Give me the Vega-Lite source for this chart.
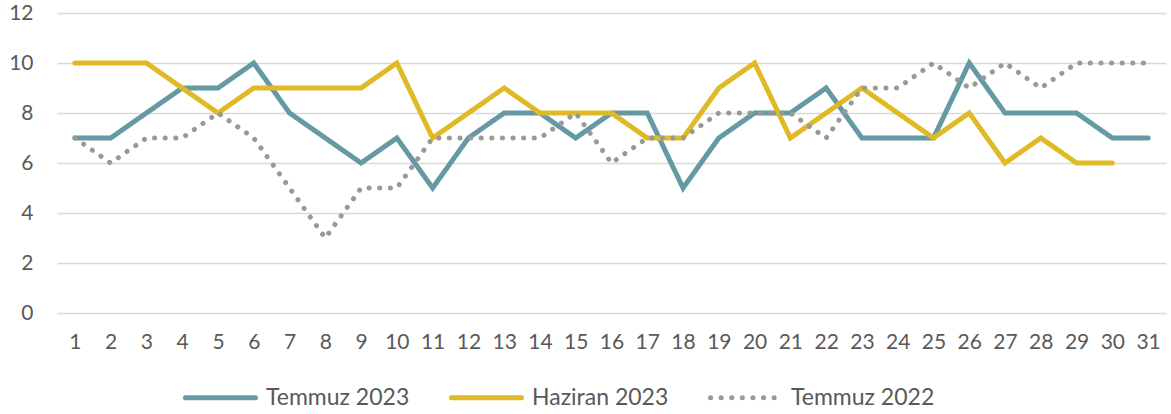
{
  "$schema": "https://vega.github.io/schema/vega-lite/v6.json",
  "autosize": "none",
  "width": 1109,
  "height": 300,
  "padding": {"left": 57, "top": 13, "right": 5, "bottom": 101},
  "background": "white",
  "config": {
    "font": "Lato",
    "view": {"stroke": null},
    "axis": {"labelColor": "#595959", "labelFont": "Lato", "labelFontSize": 21, "ticks": false, "domain": false}
  },
  "data": {
    "values": [
      {"day": 1, "series": "Temmuz 2023", "value": 7},
      {"day": 2, "series": "Temmuz 2023", "value": 7},
      {"day": 3, "series": "Temmuz 2023", "value": 8},
      {"day": 4, "series": "Temmuz 2023", "value": 9},
      {"day": 5, "series": "Temmuz 2023", "value": 9},
      {"day": 6, "series": "Temmuz 2023", "value": 10},
      {"day": 7, "series": "Temmuz 2023", "value": 8},
      {"day": 8, "series": "Temmuz 2023", "value": 7},
      {"day": 9, "series": "Temmuz 2023", "value": 6},
      {"day": 10, "series": "Temmuz 2023", "value": 7},
      {"day": 11, "series": "Temmuz 2023", "value": 5},
      {"day": 12, "series": "Temmuz 2023", "value": 7},
      {"day": 13, "series": "Temmuz 2023", "value": 8},
      {"day": 14, "series": "Temmuz 2023", "value": 8},
      {"day": 15, "series": "Temmuz 2023", "value": 7},
      {"day": 16, "series": "Temmuz 2023", "value": 8},
      {"day": 17, "series": "Temmuz 2023", "value": 8},
      {"day": 18, "series": "Temmuz 2023", "value": 5},
      {"day": 19, "series": "Temmuz 2023", "value": 7},
      {"day": 20, "series": "Temmuz 2023", "value": 8},
      {"day": 21, "series": "Temmuz 2023", "value": 8},
      {"day": 22, "series": "Temmuz 2023", "value": 9},
      {"day": 23, "series": "Temmuz 2023", "value": 7},
      {"day": 24, "series": "Temmuz 2023", "value": 7},
      {"day": 25, "series": "Temmuz 2023", "value": 7},
      {"day": 26, "series": "Temmuz 2023", "value": 10},
      {"day": 27, "series": "Temmuz 2023", "value": 8},
      {"day": 28, "series": "Temmuz 2023", "value": 8},
      {"day": 29, "series": "Temmuz 2023", "value": 8},
      {"day": 30, "series": "Temmuz 2023", "value": 7},
      {"day": 31, "series": "Temmuz 2023", "value": 7},
      {"day": 1, "series": "Haziran 2023", "value": 10},
      {"day": 2, "series": "Haziran 2023", "value": 10},
      {"day": 3, "series": "Haziran 2023", "value": 10},
      {"day": 4, "series": "Haziran 2023", "value": 9},
      {"day": 5, "series": "Haziran 2023", "value": 8},
      {"day": 6, "series": "Haziran 2023", "value": 9},
      {"day": 7, "series": "Haziran 2023", "value": 9},
      {"day": 8, "series": "Haziran 2023", "value": 9},
      {"day": 9, "series": "Haziran 2023", "value": 9},
      {"day": 10, "series": "Haziran 2023", "value": 10},
      {"day": 11, "series": "Haziran 2023", "value": 7},
      {"day": 12, "series": "Haziran 2023", "value": 8},
      {"day": 13, "series": "Haziran 2023", "value": 9},
      {"day": 14, "series": "Haziran 2023", "value": 8},
      {"day": 15, "series": "Haziran 2023", "value": 8},
      {"day": 16, "series": "Haziran 2023", "value": 8},
      {"day": 17, "series": "Haziran 2023", "value": 7},
      {"day": 18, "series": "Haziran 2023", "value": 7},
      {"day": 19, "series": "Haziran 2023", "value": 9},
      {"day": 20, "series": "Haziran 2023", "value": 10},
      {"day": 21, "series": "Haziran 2023", "value": 7},
      {"day": 22, "series": "Haziran 2023", "value": 8},
      {"day": 23, "series": "Haziran 2023", "value": 9},
      {"day": 24, "series": "Haziran 2023", "value": 8},
      {"day": 25, "series": "Haziran 2023", "value": 7},
      {"day": 26, "series": "Haziran 2023", "value": 8},
      {"day": 27, "series": "Haziran 2023", "value": 6},
      {"day": 28, "series": "Haziran 2023", "value": 7},
      {"day": 29, "series": "Haziran 2023", "value": 6},
      {"day": 30, "series": "Haziran 2023", "value": 6},
      {"day": 1, "series": "Temmuz 2022", "value": 7},
      {"day": 2, "series": "Temmuz 2022", "value": 6},
      {"day": 3, "series": "Temmuz 2022", "value": 7},
      {"day": 4, "series": "Temmuz 2022", "value": 7},
      {"day": 5, "series": "Temmuz 2022", "value": 8},
      {"day": 6, "series": "Temmuz 2022", "value": 7},
      {"day": 7, "series": "Temmuz 2022", "value": 5},
      {"day": 8, "series": "Temmuz 2022", "value": 3},
      {"day": 9, "series": "Temmuz 2022", "value": 5},
      {"day": 10, "series": "Temmuz 2022", "value": 5},
      {"day": 11, "series": "Temmuz 2022", "value": 7},
      {"day": 12, "series": "Temmuz 2022", "value": 7},
      {"day": 13, "series": "Temmuz 2022", "value": 7},
      {"day": 14, "series": "Temmuz 2022", "value": 7},
      {"day": 15, "series": "Temmuz 2022", "value": 8},
      {"day": 16, "series": "Temmuz 2022", "value": 6},
      {"day": 17, "series": "Temmuz 2022", "value": 7},
      {"day": 18, "series": "Temmuz 2022", "value": 7},
      {"day": 19, "series": "Temmuz 2022", "value": 8},
      {"day": 20, "series": "Temmuz 2022", "value": 8},
      {"day": 21, "series": "Temmuz 2022", "value": 8},
      {"day": 22, "series": "Temmuz 2022", "value": 7},
      {"day": 23, "series": "Temmuz 2022", "value": 9},
      {"day": 24, "series": "Temmuz 2022", "value": 9},
      {"day": 25, "series": "Temmuz 2022", "value": 10},
      {"day": 26, "series": "Temmuz 2022", "value": 9},
      {"day": 27, "series": "Temmuz 2022", "value": 10},
      {"day": 28, "series": "Temmuz 2022", "value": 9},
      {"day": 29, "series": "Temmuz 2022", "value": 10},
      {"day": 30, "series": "Temmuz 2022", "value": 10},
      {"day": 31, "series": "Temmuz 2022", "value": 10}
    ]
  },
  "mark": {"type": "line", "strokeWidth": 5, "strokeCap": "round", "strokeJoin": "miter"},
  "encoding": {
    "x": {
      "field": "day", "type": "ordinal", "sort": "ascending",
      "scale": {"type": "point", "padding": 0.5},
      "axis": {"title": null, "labelAngle": 0, "labelPadding": 18, "grid": false}
    },
    "y": {
      "field": "value", "type": "quantitative",
      "scale": {"domain": [0, 12], "nice": false},
      "axis": {"title": null, "values": [0, 2, 4, 6, 8, 10, 12], "labelPadding": 24, "grid": true, "gridColor": "#D9D9D9", "gridWidth": 1.5}
    },
    "color": {
      "field": "series", "type": "nominal",
      "scale": {"domain": ["Temmuz 2023", "Haziran 2023", "Temmuz 2022"], "range": ["#659AA3", "#E0B926", "#999999"]},
      "legend": {
        "title": null, "orient": "none", "direction": "horizontal", "columns": 3,
        "legendX": 126, "legendY": 347,
        "symbolType": "stroke", "symbolSize": 4900, "symbolStrokeWidth": 5,
        "labelFont": "Lato", "labelFontSize": 23, "labelColor": "#595959", "labelOffset": 8,
        "columnPadding": 31,
        "encode": {"symbols": {"update": {"strokeCap": {"value": "round"}}}}
      }
    },
    "strokeDash": {
      "field": "series", "type": "nominal",
      "scale": {"domain": ["Temmuz 2023", "Haziran 2023", "Temmuz 2022"], "range": [[1, 0], [1, 0], [0.1, 10.5]]},
      "legend": null
    },
    "order": {"field": "day", "type": "quantitative"}
  }
}
